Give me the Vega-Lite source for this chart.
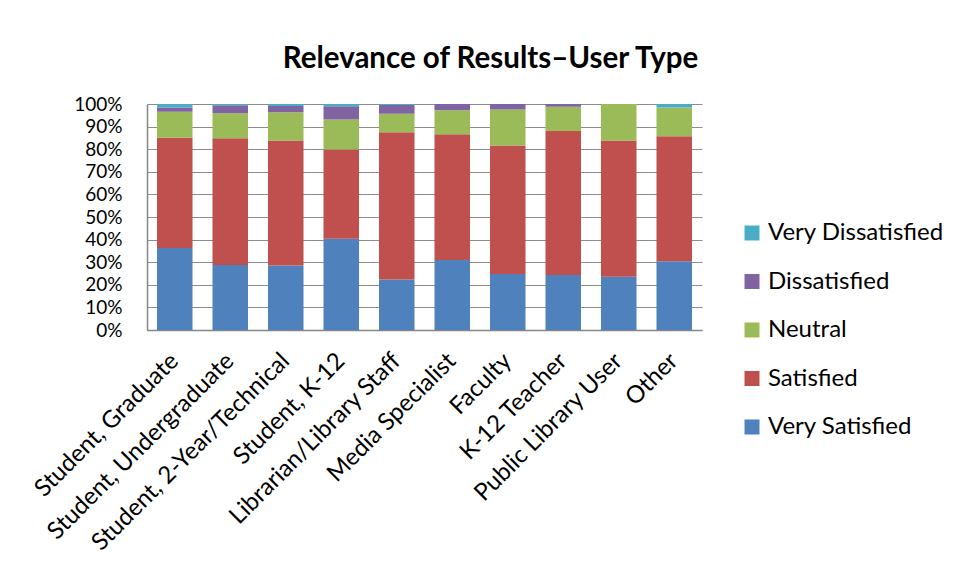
{
  "$schema": "https://vega.github.io/schema/vega-lite/v6.json",
  "width": 555,
  "height": 226,
  "autosize": {"type": "none"},
  "padding": {"left": 147, "top": 104, "right": 258, "bottom": 249},
  "background": "white",
  "title": {
    "text": "Relevance of Results\u2013User Type",
    "font": "Lato",
    "fontSize": 29.5,
    "fontWeight": "bold",
    "color": "#000000",
    "anchor": "middle",
    "dx": 66,
    "offset": 21
  },
  "data": {
    "values": [
      {"UserType": "Student, Graduate", "Level": "Very Satisfied", "Pct": 0.363},
      {"UserType": "Student, Graduate", "Level": "Satisfied", "Pct": 0.488},
      {"UserType": "Student, Graduate", "Level": "Neutral", "Pct": 0.115},
      {"UserType": "Student, Graduate", "Level": "Dissatisfied", "Pct": 0.019},
      {"UserType": "Student, Graduate", "Level": "Very Dissatisfied", "Pct": 0.015},
      {"UserType": "Student, Undergraduate", "Level": "Very Satisfied", "Pct": 0.288},
      {"UserType": "Student, Undergraduate", "Level": "Satisfied", "Pct": 0.560},
      {"UserType": "Student, Undergraduate", "Level": "Neutral", "Pct": 0.111},
      {"UserType": "Student, Undergraduate", "Level": "Dissatisfied", "Pct": 0.035},
      {"UserType": "Student, Undergraduate", "Level": "Very Dissatisfied", "Pct": 0.006},
      {"UserType": "Student, 2-Year/Technical", "Level": "Very Satisfied", "Pct": 0.285},
      {"UserType": "Student, 2-Year/Technical", "Level": "Satisfied", "Pct": 0.554},
      {"UserType": "Student, 2-Year/Technical", "Level": "Neutral", "Pct": 0.124},
      {"UserType": "Student, 2-Year/Technical", "Level": "Dissatisfied", "Pct": 0.028},
      {"UserType": "Student, 2-Year/Technical", "Level": "Very Dissatisfied", "Pct": 0.009},
      {"UserType": "Student, K-12", "Level": "Very Satisfied", "Pct": 0.404},
      {"UserType": "Student, K-12", "Level": "Satisfied", "Pct": 0.395},
      {"UserType": "Student, K-12", "Level": "Neutral", "Pct": 0.132},
      {"UserType": "Student, K-12", "Level": "Dissatisfied", "Pct": 0.059},
      {"UserType": "Student, K-12", "Level": "Very Dissatisfied", "Pct": 0.010},
      {"UserType": "Librarian/Library Staff", "Level": "Very Satisfied", "Pct": 0.223},
      {"UserType": "Librarian/Library Staff", "Level": "Satisfied", "Pct": 0.652},
      {"UserType": "Librarian/Library Staff", "Level": "Neutral", "Pct": 0.082},
      {"UserType": "Librarian/Library Staff", "Level": "Dissatisfied", "Pct": 0.039},
      {"UserType": "Librarian/Library Staff", "Level": "Very Dissatisfied", "Pct": 0.004},
      {"UserType": "Media Specialist", "Level": "Very Satisfied", "Pct": 0.310},
      {"UserType": "Media Specialist", "Level": "Satisfied", "Pct": 0.556},
      {"UserType": "Media Specialist", "Level": "Neutral", "Pct": 0.106},
      {"UserType": "Media Specialist", "Level": "Dissatisfied", "Pct": 0.028},
      {"UserType": "Media Specialist", "Level": "Very Dissatisfied", "Pct": 0.0},
      {"UserType": "Faculty", "Level": "Very Satisfied", "Pct": 0.248},
      {"UserType": "Faculty", "Level": "Satisfied", "Pct": 0.568},
      {"UserType": "Faculty", "Level": "Neutral", "Pct": 0.160},
      {"UserType": "Faculty", "Level": "Dissatisfied", "Pct": 0.024},
      {"UserType": "Faculty", "Level": "Very Dissatisfied", "Pct": 0.0},
      {"UserType": "K-12 Teacher", "Level": "Very Satisfied", "Pct": 0.243},
      {"UserType": "K-12 Teacher", "Level": "Satisfied", "Pct": 0.638},
      {"UserType": "K-12 Teacher", "Level": "Neutral", "Pct": 0.107},
      {"UserType": "K-12 Teacher", "Level": "Dissatisfied", "Pct": 0.012},
      {"UserType": "K-12 Teacher", "Level": "Very Dissatisfied", "Pct": 0.0},
      {"UserType": "Public Library User", "Level": "Very Satisfied", "Pct": 0.236},
      {"UserType": "Public Library User", "Level": "Satisfied", "Pct": 0.602},
      {"UserType": "Public Library User", "Level": "Neutral", "Pct": 0.162},
      {"UserType": "Public Library User", "Level": "Dissatisfied", "Pct": 0.0},
      {"UserType": "Public Library User", "Level": "Very Dissatisfied", "Pct": 0.0},
      {"UserType": "Other", "Level": "Very Satisfied", "Pct": 0.304},
      {"UserType": "Other", "Level": "Satisfied", "Pct": 0.553},
      {"UserType": "Other", "Level": "Neutral", "Pct": 0.128},
      {"UserType": "Other", "Level": "Dissatisfied", "Pct": 0.0},
      {"UserType": "Other", "Level": "Very Dissatisfied", "Pct": 0.015}
    ]
  },
  "transform": [
    {"window": [{"op": "row_number", "as": "StackIdx"}], "groupby": ["UserType"]}
  ],
  "mark": {"type": "bar", "strokeWidth": 0},
  "encoding": {
    "x": {
      "field": "UserType",
      "type": "nominal",
      "sort": null,
      "scale": {"paddingInner": 0.36, "paddingOuter": 0.18},
      "axis": {
        "title": null,
        "labelAngle": -45,
        "labelAlign": "right",
        "labelBaseline": "middle",
        "labelFont": "Lato",
        "labelFontSize": 24,
        "labelColor": "#000000",
        "labelPadding": 27,
        "ticks": false,
        "domainColor": "#868686",
        "domainWidth": 1.5,
        "labelLimit": 400,
        "labelOverlap": false
      }
    },
    "y": {
      "field": "Pct",
      "type": "quantitative",
      "stack": "zero",
      "scale": {"domain": [0, 1], "nice": false},
      "axis": {
        "title": null,
        "values": [0, 0.1, 0.2, 0.3, 0.4, 0.5, 0.6, 0.7, 0.8, 0.9, 1],
        "format": ".0%",
        "labelFont": "Lato",
        "labelFontSize": 19,
        "labelColor": "#000000",
        "labelPadding": 25,
        "labelOverlap": false,
        "ticks": false,
        "grid": true,
        "gridColor": "#8c8c8c",
        "gridWidth": 1.2,
        "domainColor": "#868686",
        "domainWidth": 1.5
      }
    },
    "order": {"field": "StackIdx", "type": "quantitative", "sort": "ascending"},
    "color": {
      "field": "Level",
      "type": "nominal",
      "sort": ["Very Dissatisfied", "Dissatisfied", "Neutral", "Satisfied", "Very Satisfied"],
      "scale": {
        "domain": ["Very Dissatisfied", "Dissatisfied", "Neutral", "Satisfied", "Very Satisfied"],
        "range": ["#4BACC6", "#8064A2", "#9BBB59", "#C0504D", "#4F81BD"]
      },
      "legend": {
        "title": null,
        "orient": "none",
        "legendX": 593,
        "legendY": 117,
        "padding": 0,
        "symbolType": "square",
        "symbolSize": 225,
        "symbolStrokeWidth": 0,
        "labelFont": "Lato",
        "labelFontSize": 24,
        "labelColor": "#000000",
        "labelOffset": 4,
        "rowPadding": 24.5,
        "labelLimit": 300
      }
    }
  },
  "config": {"view": {"stroke": null}}
}
